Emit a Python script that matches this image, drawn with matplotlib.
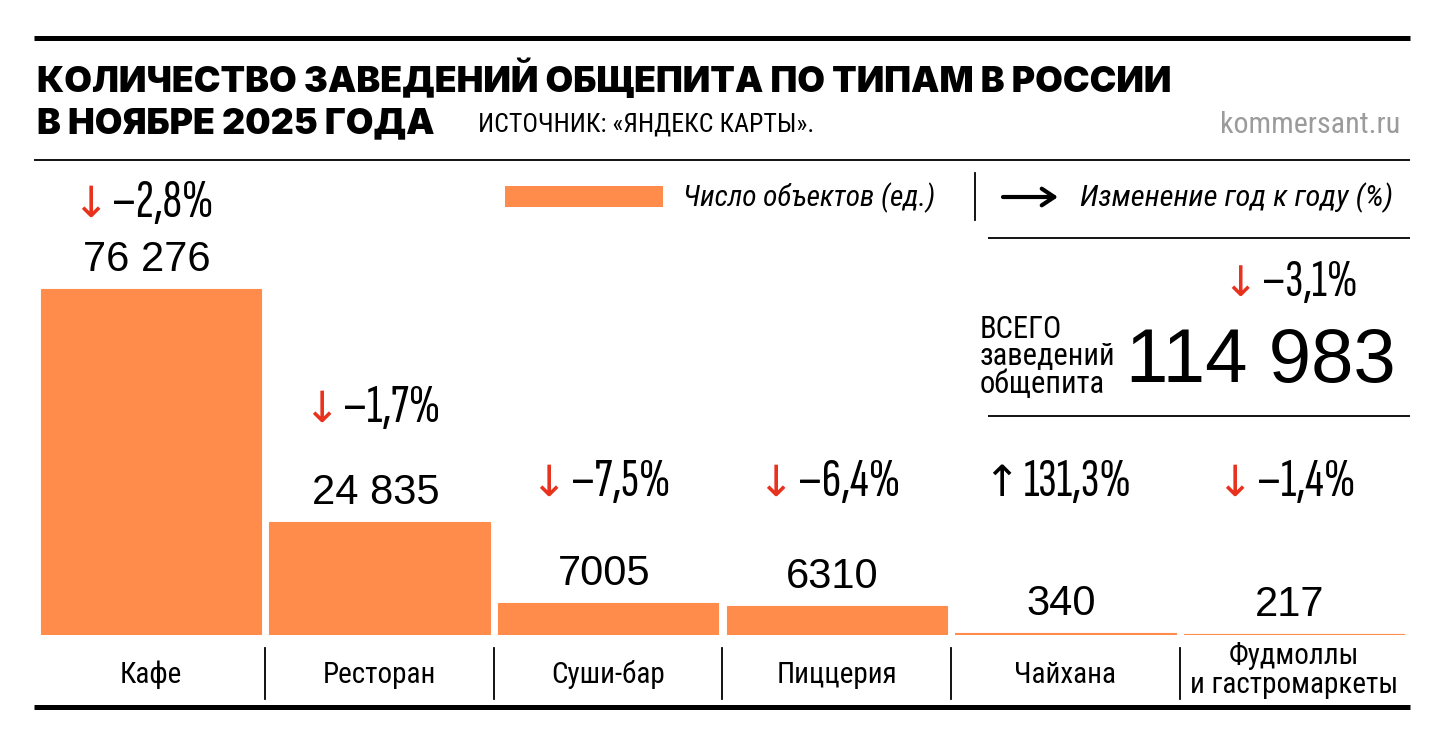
import matplotlib
matplotlib.use('Agg')
import matplotlib.pyplot as plt
import matplotlib.transforms as mtransforms
from matplotlib.patches import Rectangle
import numpy as np

# ---- data ----
categories = ['Кафе', 'Ресторан', 'Суши-бар', 'Пиццерия', 'Чайхана',
              'Фудмоллы\nи гастромаркеты']
counts = [76276, 24835, 7005, 6310, 340, 217]
yoy_change = [-2.8, -1.7, -7.5, -6.4, 131.3, -1.4]
total_count = 114983
total_change = -3.1

title_lines = ['КОЛИЧЕСТВО ЗАВЕДЕНИЙ ОБЩЕПИТА ПО ТИПАМ В РОССИИ',
               'В НОЯБРЕ 2025 ГОДА']
source_text = 'ИСТОЧНИК: «ЯНДЕКС КАРТЫ».'
site_text = 'kommersant.ru'
legend_bar_text = 'Число объектов (ед.)'
legend_arrow_text = 'Изменение год к году (%)'
total_lines = ['ВСЕГО', 'заведений', 'общепита']

# ---- style ----
ORANGE = '#ff8c4b'
RED = '#e8321e'
GREY = '#9b9b9b'
NARROW = ['Roboto Condensed', 'DejaVu Sans']
XNARROW = ['Sofia Sans Extra Condensed', 'Roboto Condensed', 'DejaVu Sans']
REGULAR = ['Liberation Sans', 'DejaVu Sans']
HEAVY = ['Inter', 'DejaVu Sans']
ARROWS = ['DejaVu Sans']

# layout (pixels from top-left of a 1440x740 canvas)
W, H = 1440, 740
BAR_BASE = 635
PLOT_TOP = 159
TALLEST_TOP = 289
pct_baselines = [217, 422, 496, 496, 496, 496]


def fmt_count(n):
    return f'{n:,}'.replace(',', ' ') if n >= 10000 else str(n)


def fmt_change(v):
    s = f'{abs(v):.1f}'.replace('.', ',') + '%'
    return ('–' + s) if v < 0 else s


fig = plt.figure(figsize=(W / 100, H / 100), dpi=100)

# bar axes
ax_left, ax_right = 36.7, 1408.3
ax = fig.add_axes([ax_left / W, (H - BAR_BASE) / H,
                   (ax_right - ax_left) / W, (BAR_BASE - PLOT_TOP) / H])
x = np.arange(len(categories))
ymax = max(counts) * (BAR_BASE - PLOT_TOP) / (BAR_BASE - TALLEST_TOP)
ax.bar(x, counts, width=0.965, color=ORANGE, edgecolor=ORANGE, linewidth=0.8)
ax.set_xlim(-0.5, len(categories) - 0.5)
ax.set_ylim(0, ymax)
ax.axis('off')

for i, v in enumerate(counts):
    ax.annotate(fmt_count(v), xy=(i, v), xytext=(-3, 13), textcoords='offset points',
                ha='center', va='baseline', fontsize=30, family=REGULAR)

# overlay in pixel coordinates
ov = fig.add_axes([0, 0, 1, 1])
ov.set_xlim(0, W)
ov.set_ylim(H, 0)
ov.axis('off')
renderer = fig.canvas.get_renderer()
bar_trans = mtransforms.blended_transform_factory(ax.transData, ov.transData)


def fit(t, width):
    w = t.get_window_extent(renderer).width
    t.set_fontsize(t.get_fontsize() * width / w)
    return t


def change_label(xpos, ypos, trans, value, size, gap=4, dx=0):
    arrow = '↓' if value < 0 else '↑'
    col = RED if value < 0 else 'black'
    ta = ov.text(xpos, ypos, arrow, transform=trans, color=col, fontsize=size * 0.8,
                 family=ARROWS, ha='left', va='baseline')
    tn = ov.text(xpos, ypos, fmt_change(value), transform=trans, color='black',
                 fontsize=size, family=XNARROW, ha='left', va='baseline')
    wa = ta.get_window_extent(renderer).width
    wn = tn.get_window_extent(renderer).width
    start = -(wa + gap + wn) / 2 + dx
    ta.set_transform(trans + mtransforms.Affine2D().translate(start, 0))
    tn.set_transform(trans + mtransforms.Affine2D().translate(start + wa + gap, 0))


# rules
ov.plot([34, 1410], [37.5, 37.5], color='black', lw=3.6, solid_capstyle='butt')
ov.plot([34, 1410], [159.5, 159.5], color='black', lw=1.3, solid_capstyle='butt')
ov.plot([34, 1410], [707, 707], color='black', lw=3.6, solid_capstyle='butt')
ov.plot([988, 1410], [238, 238], color='black', lw=1.3, solid_capstyle='butt')
ov.plot([988, 1410], [416, 416], color='black', lw=1.3, solid_capstyle='butt')

# titles
t1 = ov.text(37, 92, title_lines[0], family=HEAVY, weight=900, fontsize=26,
             va='baseline', ha='left')
fit(t1, 1139)
ov.text(37, 133, title_lines[1], family=HEAVY, weight=900,
        fontsize=t1.get_fontsize(), va='baseline', ha='left')
fit(ov.text(478, 132, source_text, family=NARROW, fontsize=17,
            va='baseline', ha='left'), 334)
fit(ov.text(1400, 133, site_text, family=NARROW, fontsize=18, color=GREY,
            va='baseline', ha='right'), 180)

# legend
ov.add_patch(Rectangle((505, 186), 158, 21, color=ORANGE, lw=0))
fit(ov.text(683, 206, legend_bar_text, family=NARROW, style='italic', fontsize=20,
            va='baseline', ha='left'), 252)
ov.plot([975, 975], [173, 220], color='black', lw=1.3)
ov.annotate('', xy=(1058, 197), xytext=(1003, 197),
            arrowprops=dict(arrowstyle='->,head_length=0.45,head_width=0.3',
                            lw=3, color='black', mutation_scale=20,
                            shrinkA=0, shrinkB=0))
fit(ov.text(1080, 206, legend_arrow_text, family=NARROW, style='italic', fontsize=20,
            va='baseline', ha='left'), 312)

# category labels and separators
for i, cat in enumerate(categories):
    parts = cat.split('\n')
    for k, line in enumerate(parts):
        ov.text(i, 683 - (len(parts) - 1) * 19 + k * 29, line, transform=bar_trans,
                family=NARROW, fontsize=21, ha='center', va='baseline')
    if i > 0:
        ov.plot([i - 0.5, i - 0.5], [648, 699], transform=bar_trans,
                color='black', lw=1.3)

# change labels above bars
for i, v in enumerate(yoy_change):
    change_label(i, pct_baselines[i], bar_trans, v, 39, dx=-8)

# total block
change_label(1290, 296, ov.transData, total_change, 38)
for k, line in enumerate(total_lines):
    ov.text(980, 338 + k * 27.5, line, family=NARROW, fontsize=22,
            ha='left', va='baseline')
fit(ov.text(1396, 382, fmt_count(total_count), family=REGULAR, fontsize=60,
            ha='right', va='baseline'), 270)

fig.savefig('out.png', dpi=100)
